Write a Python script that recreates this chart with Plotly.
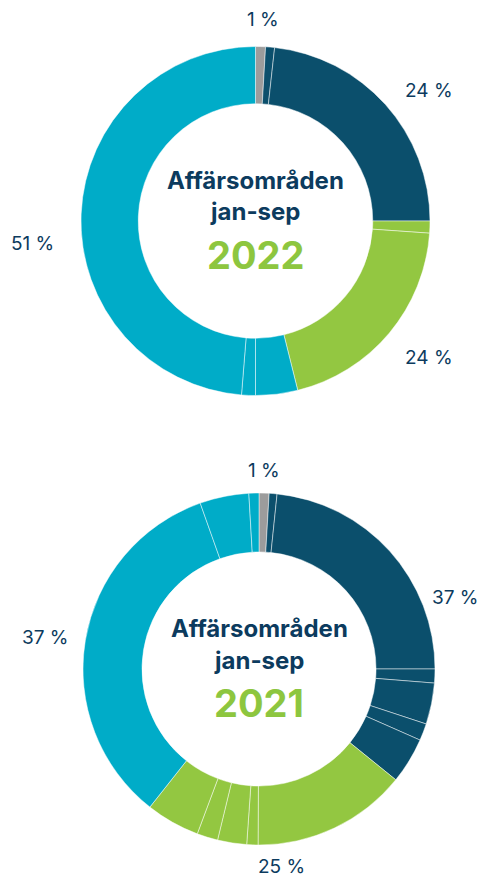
import plotly.graph_objects as go

W, H = 481, 878

# ---- data ----
groups_2022 = ["Övrigt", "Blå a", "Blå b", "Grön a", "Grön b", "Cyan a", "Cyan b", "Cyan c"]
values_2022 = [0.92, 0.83, 23.25, 1.11, 20.0, 3.89, 1.28, 48.72]
colors_2022 = ["#9c9c9c", "#0b4f6c", "#0b4f6c", "#93c741", "#93c741", "#00acc8", "#00acc8", "#00acc8"]

groups_2021 = ["Övrigt", "Blå a", "Blå b", "Blå c", "Blå d", "Blå e", "Blå f",
               "Grön a", "Grön b", "Grön c", "Grön d", "Grön e",
               "Cyan a", "Cyan b", "Cyan c"]
values_2021 = [0.92, 0.72, 23.36, 1.28, 3.78, 1.56, 4.22,
               14.25, 1.03, 2.67, 1.92, 4.94,
               33.94, 4.5, 0.92]
colors_2021 = ["#9c9c9c"] + ["#0b4f6c"] * 6 + ["#93c741"] * 5 + ["#00acc8"] * 3

labels_2022 = ["1 %", "24 %", "24 %", "51 %"]
labels_2021 = ["1 %", "37 %", "25 %", "37 %"]

title_line1 = "Affärsområden"
title_line2 = "jan-sep"
years = ["2022", "2021"]

NAVY = "#0c3b5e"
GREEN = "#8dc63f"

def px_dom(x0, x1, y0, y1):
    return dict(x=[x0 / W, x1 / W], y=[1 - y1 / H, 1 - y0 / H])

fig = go.Figure()
fig.add_trace(go.Pie(
    labels=groups_2022, values=values_2022, sort=False, direction="clockwise",
    rotation=0, hole=0.672, textinfo="none", hoverinfo="label+percent",
    marker=dict(colors=colors_2022, line=dict(color="rgba(255,255,255,0.8)", width=0.6)),
    domain=px_dom(81, 430, 46.5, 395.5), showlegend=False,
))
fig.add_trace(go.Pie(
    labels=groups_2021, values=values_2021, sort=False, direction="clockwise",
    rotation=0, hole=0.665, textinfo="none", hoverinfo="label+percent",
    marker=dict(colors=colors_2021, line=dict(color="rgba(255,255,255,0.8)", width=0.6)),
    domain=px_dom(83, 435, 493, 845), showlegend=False,
))

def ann(x, y, text, size, color, bold=False):
    fig.add_annotation(
        x=x / W, y=1 - y / H, xref="paper", yref="paper", text=f"<b>{text}</b>" if bold else text,
        showarrow=False, xanchor="center", yanchor="middle",
        font=dict(family="Inter", size=size, color=color),
    )

# outer percentage labels
pos_2022 = [(263, 19), (429, 91), (429, 357), (32, 244)]
pos_2021 = [(264, 470), (455, 597), (281, 866), (45, 637)]
for (x, y), t in zip(pos_2022, labels_2022):
    ann(x, y, t, 19, NAVY)
for (x, y), t in zip(pos_2021, labels_2021):
    ann(x, y, t, 19, NAVY)

# centre titles
for cx, cy, yr in [(255.5, 221, years[0]), (259, 669, years[1])]:
    ann(cx, cy - 41, title_line1, 24, NAVY, bold=True)
    ann(cx, cy - 9, title_line2, 24, NAVY, bold=True)
    ann(cx, cy + 34, yr, 38, GREEN, bold=True)

fig.update_layout(
    width=W, height=H, margin=dict(l=0, r=0, t=0, b=0),
    paper_bgcolor="white", plot_bgcolor="white",
)
fig.write_html(
    "out.html",
    config={"displayModeBar": False},
    post_script="document.body.style.margin='0px';document.body.style.overflow='hidden';",
)
